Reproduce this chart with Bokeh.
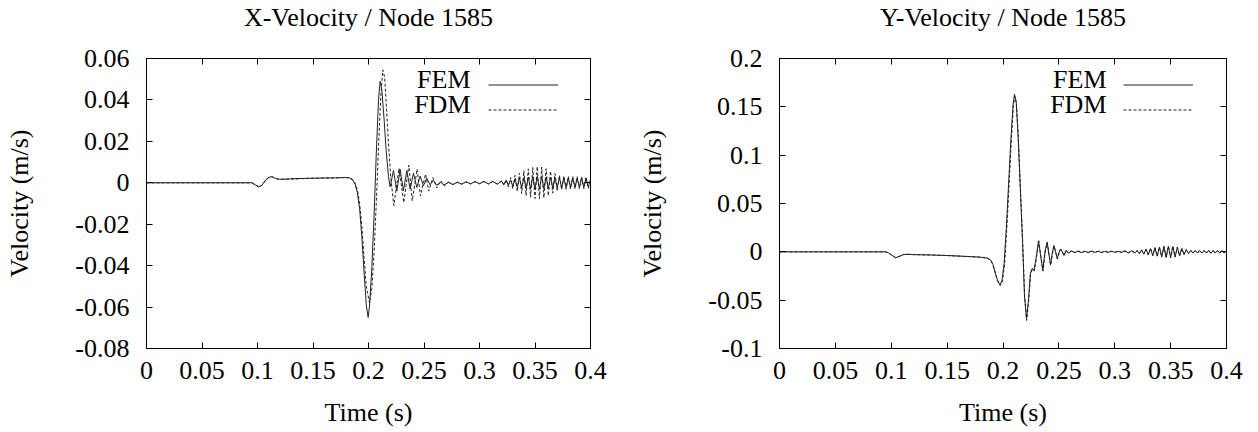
from bokeh.plotting import figure
from bokeh.layouts import row
from bokeh.models import FixedTicker, LinearAxis, Range1d, Legend, LegendItem, Label, Title
from bokeh.embed import file_html
from bokeh.resources import INLINE

FONT = "Liberation Serif"
FS = "26px"
LINE_COLOR = "#222222"

# ---------------- titles & tick labels ----------------
TITLES = ["X-Velocity / Node 1585", "Y-Velocity / Node 1585"]
X_TICKS = [0.0, 0.05, 0.1, 0.15, 0.2, 0.25, 0.3, 0.35, 0.4]
X_TICK_LABELS = ["0", "0.05", "0.1", "0.15", "0.2", "0.25", "0.3", "0.35", "0.4"]
YX_TICKS = [-0.08, -0.06, -0.04, -0.02, 0.0, 0.02, 0.04, 0.06]
YX_TICK_LABELS = ["-0.08", "-0.06", "-0.04", "-0.02", "0", "0.02", "0.04", "0.06"]
YY_TICKS = [-0.1, -0.05, 0.0, 0.05, 0.1, 0.15, 0.2]
YY_TICK_LABELS = ["-0.1", "-0.05", "0", "0.05", "0.1", "0.15", "0.2"]

# ---------------- shared tail sample times ----------------
T_TAIL = [0.320, 0.322, 0.324, 0.326, 0.328, 0.330, 0.332, 0.334, 0.336, 0.338,
          0.340, 0.342, 0.344, 0.346, 0.348, 0.350, 0.352, 0.354, 0.356, 0.358,
          0.360, 0.362, 0.364, 0.366, 0.368, 0.370, 0.372, 0.374, 0.376, 0.378,
          0.380, 0.382, 0.384, 0.386, 0.388, 0.390, 0.392, 0.394, 0.396, 0.398, 0.400]

# ---------------- X-velocity, FEM ----------------
T_X_FEM = [0.000, 0.095, 0.098, 0.101, 0.104, 0.107, 0.110, 0.113, 0.116, 0.120,
           0.130, 0.140, 0.150, 0.160, 0.170, 0.180, 0.183, 0.186, 0.188, 0.190,
           0.192, 0.194, 0.196, 0.198, 0.1997, 0.201, 0.203, 0.205, 0.207, 0.209,
           0.2105, 0.212, 0.214, 0.216, 0.218, 0.2195, 0.2225, 0.2255, 0.2285, 0.2315,
           0.2345, 0.2375, 0.2405, 0.2435, 0.2465, 0.2495, 0.2525, 0.2555, 0.2585, 0.2615,
           0.265, 0.268, 0.272, 0.276, 0.280, 0.284, 0.288, 0.292, 0.296, 0.300,
           0.304, 0.308, 0.312, 0.316]
V_X_FEM = [0.0, 0.0, -0.0010, -0.0020, -0.0012, 0.0012, 0.0026, 0.0030, 0.0021, 0.0017,
           0.0019, 0.0021, 0.0022, 0.0023, 0.0024, 0.0025, 0.0023, 0.0012, -0.0008, -0.0048,
           -0.0125, -0.026, -0.043, -0.059, -0.065, -0.059, -0.041, -0.016, 0.014, 0.040,
           0.049, 0.045, 0.031, 0.015, 0.003, -0.002, 0.006, -0.004, 0.0065, -0.0038,
           0.0058, -0.0030, 0.0046, -0.0022, 0.0032, -0.0014, 0.0022, -0.0010, 0.0012, -0.0012,
           0.0002, -0.0011, 0.0003, -0.0008, 0.0002, -0.0006, 0.0004, -0.0005, 0.0005, -0.0004,
           0.0006, -0.0005, 0.0006, -0.0006]
V_X_FEM_TAIL = [0.0007, -0.0009, 0.0010, -0.0012, 0.0014, -0.0016, 0.0018, -0.0020, 0.0022, -0.0024,
                0.0025, -0.0027, 0.0028, -0.0029, 0.0030, -0.0030, 0.0031, -0.0030, 0.0030, -0.0029,
                0.0028, -0.0027, 0.0026, -0.0025, 0.0025, -0.0024, 0.0024, -0.0023, 0.0024, -0.0023,
                0.0023, -0.0022, 0.0023, -0.0022, 0.0022, -0.0021, 0.0022, -0.0021, 0.0021, -0.0020, 0.0015]

# ---------------- X-velocity, FDM ----------------
T_X_FDM = [0.000, 0.095, 0.098, 0.101, 0.104, 0.107, 0.110, 0.113, 0.116, 0.120,
           0.130, 0.140, 0.150, 0.160, 0.170, 0.180, 0.183, 0.186, 0.188, 0.190,
           0.192, 0.194, 0.196, 0.198, 0.2009, 0.203, 0.205, 0.207, 0.209, 0.211,
           0.2129, 0.2145, 0.216, 0.218, 0.220, 0.2228, 0.2275, 0.2318, 0.2363, 0.2394,
           0.2438, 0.2468, 0.2514, 0.2543, 0.258, 0.2615, 0.265, 0.2685, 0.272, 0.276,
           0.280, 0.284, 0.288, 0.292, 0.296, 0.300, 0.304, 0.308, 0.312, 0.316]
V_X_FDM = [0.0, 0.0, -0.0009, -0.0019, -0.0013, 0.0010, 0.0024, 0.0029, 0.0022, 0.0016,
           0.0018, 0.0020, 0.0022, 0.0023, 0.0024, 0.0026, 0.0024, 0.0015, -0.0003, -0.0035,
           -0.0100, -0.021, -0.036, -0.050, -0.058, -0.051, -0.034, -0.010, 0.017, 0.041,
           0.0545, 0.051, 0.038, 0.019, 0.003, -0.011, 0.007, -0.0095, 0.0085, -0.0087,
           0.0066, -0.0063, 0.0042, -0.0040, 0.0025, -0.0025, 0.0010, -0.0015, 0.0002, -0.0009,
           0.0003, -0.0007, 0.0005, -0.0006, 0.0006, -0.0005, 0.0007, -0.0006, 0.0007, -0.0007]
V_X_FDM_TAIL = [0.0010, -0.0012, 0.0016, -0.0020, 0.0025, -0.0030, 0.0036, -0.0041, 0.0047, -0.0052,
                0.0058, -0.0062, 0.0067, -0.0070, 0.0074, -0.0076, 0.0078, -0.0077, 0.0076, -0.0072,
                0.0068, -0.0062, 0.0056, -0.0050, 0.0045, -0.0040, 0.0037, -0.0034, 0.0033, -0.0031,
                0.0031, -0.0030, 0.0030, -0.0029, 0.0030, -0.0029, 0.0029, -0.0028, 0.0028, -0.0027, 0.0020]

# ---------------- Y-velocity, FEM ----------------
T_Y_FEM = [0.000, 0.095, 0.0975, 0.100, 0.1038, 0.107, 0.111, 0.115, 0.120, 0.135,
           0.150, 0.165, 0.180, 0.186, 0.189, 0.191, 0.193, 0.195, 0.1972, 0.199,
           0.201, 0.203, 0.205, 0.207, 0.209, 0.2103, 0.2118, 0.2135, 0.2155, 0.2175,
           0.2192, 0.2210, 0.2228, 0.2245, 0.2262, 0.2278, 0.2298, 0.2318, 0.2338, 0.2356,
           0.2375, 0.2395, 0.2410, 0.2425, 0.2440, 0.2455, 0.2470, 0.2485, 0.2500, 0.2515,
           0.2530, 0.2545, 0.2565, 0.2585, 0.261, 0.264, 0.267, 0.270, 0.273, 0.276,
           0.279, 0.282, 0.285, 0.288, 0.291, 0.294, 0.297, 0.300, 0.303, 0.306,
           0.309, 0.312, 0.315, 0.318]
V_Y_FEM = [0.0, 0.0, -0.0010, -0.0030, -0.0062, -0.0048, -0.0028, -0.0025, -0.0029, -0.0032,
           -0.0038, -0.0046, -0.0055, -0.0065, -0.0085, -0.013, -0.021, -0.029, -0.034, -0.030,
           -0.012, 0.025, 0.070, 0.115, 0.152, 0.163, 0.155, 0.120, 0.065, 0.010,
           -0.045, -0.069, -0.050, -0.022, -0.017, -0.019, -0.005, 0.0115, -0.005, -0.019,
           0.000, 0.010, -0.002, -0.0134, -0.002, 0.0066, 0.000, -0.0070, -0.0010, 0.0030,
           0.000, -0.0037, 0.0015, -0.0015, 0.0010, -0.0008, 0.0007, -0.0008, 0.0006, -0.0007,
           0.0007, -0.0006, 0.0006, -0.0007, 0.0005, -0.0006, 0.0006, -0.0005, 0.0006, -0.0006,
           0.0009, -0.0010, 0.0011, -0.0012]
V_Y_FEM_TAIL = [0.0012, -0.0016, 0.0019, -0.0022, 0.0026, -0.0030, 0.0033, -0.0037, 0.0040, -0.0043,
                0.0046, -0.0050, 0.0052, -0.0055, 0.0056, -0.0058, 0.0055, -0.0052, 0.0047, -0.0041,
                0.0035, -0.0028, 0.0022, -0.0018, 0.0015, -0.0013, 0.0012, -0.0012, 0.0013, -0.0012,
                0.0013, -0.0013, 0.0014, -0.0013, 0.0014, -0.0013, 0.0014, -0.0013, 0.0013, -0.0012, 0.0010]

# ---------------- Y-velocity, FDM ----------------
T_Y_FDM = [0.000, 0.095, 0.0975, 0.100, 0.1040, 0.107, 0.111, 0.115, 0.120, 0.135,
           0.150, 0.165, 0.180, 0.186, 0.189, 0.191, 0.193, 0.195, 0.1975, 0.1995,
           0.2015, 0.2035, 0.2055, 0.2075, 0.2093, 0.2105, 0.2120, 0.2137, 0.2157, 0.2177,
           0.2194, 0.2212, 0.2230, 0.2247, 0.2264, 0.2280, 0.2300, 0.2320, 0.2340, 0.2358,
           0.2377, 0.2397, 0.2412, 0.2427, 0.2442, 0.2457, 0.2472, 0.2487, 0.2502, 0.2517,
           0.2532, 0.2547, 0.2567, 0.2587, 0.2615, 0.2645, 0.2675, 0.2705, 0.2735, 0.2765,
           0.2795, 0.2825, 0.2855, 0.2885, 0.2915, 0.2945, 0.2975, 0.3005, 0.3035, 0.3065,
           0.3095, 0.3125, 0.3155, 0.3185]
V_Y_FDM = [0.0, 0.0, -0.0010, -0.0031, -0.0060, -0.0047, -0.0029, -0.0026, -0.0029, -0.0033,
           -0.0039, -0.0047, -0.0056, -0.0066, -0.0088, -0.0135, -0.022, -0.030, -0.035, -0.031,
           -0.012, 0.026, 0.071, 0.116, 0.151, 0.161, 0.154, 0.119, 0.063, 0.008,
           -0.047, -0.071, -0.051, -0.023, -0.018, -0.020, -0.006, 0.0110, -0.006, -0.020,
           -0.001, 0.0095, -0.003, -0.0140, -0.002, 0.0060, -0.0005, -0.0075, -0.0012, 0.0028,
           -0.0002, -0.0040, 0.0014, -0.0017, 0.0011, -0.0009, 0.0008, -0.0009, 0.0007, -0.0008,
           0.0008, -0.0007, 0.0007, -0.0008, 0.0006, -0.0007, 0.0007, -0.0006, 0.0007, -0.0007,
           0.0010, -0.0011, 0.0012, -0.0014]
V_Y_FDM_TAIL = [0.0014, -0.0018, 0.0021, -0.0025, 0.0029, -0.0033, 0.0037, -0.0041, 0.0044, -0.0048,
                0.0051, -0.0055, 0.0057, -0.0060, 0.0061, -0.0063, 0.0060, -0.0056, 0.0050, -0.0044,
                0.0037, -0.0030, 0.0024, -0.0019, 0.0016, -0.0014, 0.0013, -0.0013, 0.0014, -0.0013,
                0.0014, -0.0014, 0.0015, -0.0014, 0.0015, -0.0014, 0.0015, -0.0014, 0.0014, -0.0013, 0.0011]


def make_panel(title, t_fem, v_fem, t_fdm, v_fdm, y_lo, y_hi, yticks, ylabels,
               b_left, b_right, frame_w, legend_x, text_x):
    p = figure(frame_width=frame_w, frame_height=290,
               min_border_left=b_left, min_border_right=b_right,
               min_border_top=58, min_border_bottom=84,
               x_range=Range1d(0.0, 0.4), y_range=Range1d(y_lo, y_hi),
               output_backend="svg", toolbar_location=None,
               background_fill_color="white", border_fill_color="white")
    p.title.text = ""
    p.xgrid.visible = False
    p.ygrid.visible = False
    p.outline_line_color = "black"
    p.outline_line_width = 1
    p.outline_line_alpha = 1.0

    xt = FixedTicker(ticks=X_TICKS)
    yt = FixedTicker(ticks=yticks)

    xa = p.xaxis[0]
    xa.ticker = xt
    xa.major_label_overrides = {t: l for t, l in zip(X_TICKS, X_TICK_LABELS)}
    xa.axis_label = "Time (s)"
    xa.major_label_standoff = 13
    xa.axis_label_standoff = 16

    ya = p.yaxis[0]
    ya.ticker = yt
    ya.major_label_overrides = {t: l for t, l in zip(yticks, ylabels)}
    ya.axis_label = "Velocity (m/s)"
    ya.major_label_standoff = 17
    ya.axis_label_standoff = 38

    for ax in (xa, ya):
        ax.major_tick_in = 6
        ax.major_tick_out = 0
        ax.minor_tick_line_color = None
        ax.axis_line_color = "black"
        ax.major_tick_line_color = "black"
        ax.major_label_text_font = FONT
        ax.major_label_text_font_size = FS
        ax.major_label_text_color = "black"
        ax.axis_label_text_font = FONT
        ax.axis_label_text_font_size = FS
        ax.axis_label_text_font_style = "normal"
        ax.axis_label_text_color = "black"

    # mirrored inward ticks on top (drawn as minor ticks; the invisible
    # outward major ticks reserve the gap between frame and title)
    top = LinearAxis(ticker=FixedTicker(ticks=X_TICKS, minor_ticks=X_TICKS),
                     major_tick_in=0, major_tick_out=25, major_tick_line_color=None,
                     minor_tick_in=6, minor_tick_out=0, minor_tick_line_color="black",
                     major_label_text_font_size="1px", major_label_text_color=None,
                     major_label_standoff=0, axis_line_color="black")
    right = LinearAxis(ticker=yt, major_tick_in=6, major_tick_out=0,
                       minor_tick_line_color=None, major_label_text_font_size="1px",
                       major_label_text_color=None,
                       major_label_standoff=0, axis_line_color="black")
    p.add_layout(top, "above")
    p.add_layout(right, "right")
    p.add_layout(Title(text=title, text_font=FONT, text_font_size=FS,
                       text_font_style="normal", text_color="black",
                       align="center", vertical_align="middle", standoff=2), "above")

    r1 = p.line(t_fem, v_fem, line_color=LINE_COLOR, line_width=1)
    r2 = p.line(t_fdm, v_fdm, line_color=LINE_COLOR, line_width=1, line_dash="3 2")

    leg = Legend(items=[LegendItem(label=" ", renderers=[r1]),
                        LegendItem(label=" ", renderers=[r2])],
                 location=(legend_x, 226), glyph_width=70, glyph_height=25,
                 label_height=25, label_width=1, spacing=0, padding=0, margin=0,
                 border_line_color=None, background_fill_alpha=0,
                 label_text_font_size="1px", label_text_color=None, label_standoff=0)
    p.add_layout(leg)

    for txt, yy in (("FEM", 269), ("FDM", 244)):
        p.add_layout(Label(x=text_x, y=yy, x_units="screen", y_units="screen",
                           text=txt, text_align="right", text_baseline="middle",
                           text_font=FONT, text_font_size=FS, text_color="black"))
    return p


p1 = make_panel(TITLES[0],
                T_X_FEM + T_TAIL, V_X_FEM + V_X_FEM_TAIL,
                T_X_FDM + T_TAIL, V_X_FDM + V_X_FDM_TAIL,
                -0.08, 0.06, YX_TICKS, YX_TICK_LABELS,
                146, 39, 444, 342, 324)
p2 = make_panel(TITLES[1],
                T_Y_FEM + T_TAIL, V_Y_FEM + V_Y_FEM_TAIL,
                T_Y_FDM + T_TAIL, V_Y_FDM + V_Y_FDM_TAIL,
                -0.1, 0.2, YY_TICKS, YY_TICK_LABELS,
                150, 32, 447, 344, 327)

layout = row(p1, p2)
open("out.html", "w").write(file_html(layout, INLINE))
